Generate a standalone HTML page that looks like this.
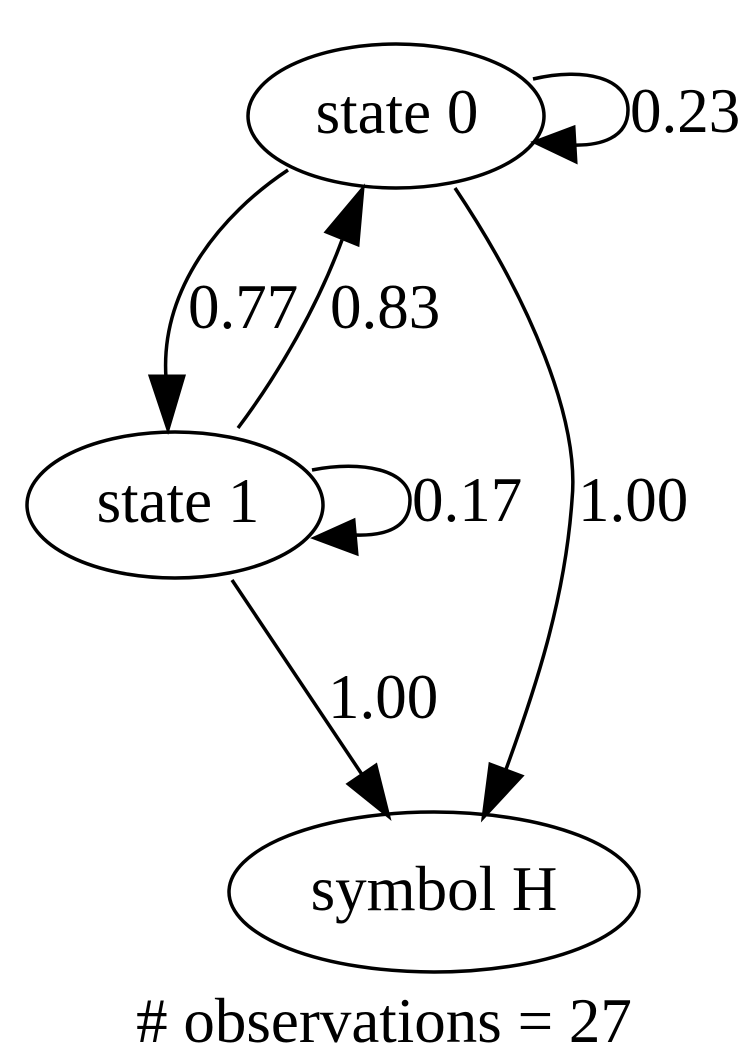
<!DOCTYPE html>
<html><head><meta charset="utf-8"><style>
html,body{margin:0;padding:0;background:#fff;}
svg{display:block;}
text{font-family:"Liberation Serif",serif;font-size:63px;fill:#000;}
</style></head><body>
<svg width="748" height="1058" viewBox="0 0 748 1058">
<g fill="none" stroke="#000" stroke-width="3.5">
<ellipse cx="396" cy="116" rx="148" ry="72"/>
<ellipse cx="175" cy="505" rx="148" ry="73"/>
<ellipse cx="434" cy="892" rx="205" ry="80"/>
<path d="M533,79 C585,67 628,78 628,110 C628,138 600,146 572,145"/>
<path d="M288,170 C220,215 160,290 166,378"/>
<path d="M238,428 C280,372 318,305 342,240"/>
<path d="M312,470 C362,460 410,470 410,500 C410,528 385,536 355,535"/>
<path d="M455,188 C530,300 580,420 572,500 C565,600 535,690 505,772"/>
<path d="M232,580 L363,776"/>
</g>
<g fill="#000" stroke="#000" stroke-width="3">
<polygon points="534,142 574,127 576,162"/>
<polygon points="168,430 150,376 184,376"/>
<polygon points="363,188 358,245 326,232"/>
<polygon points="314,538 354,520 357,554"/>
<polygon points="483,818 490,764 522,776"/>
<polygon points="389,817 348,784 376,765"/>
</g>
<text x="397" y="133" text-anchor="middle">state 0</text>
<text x="178" y="522" text-anchor="middle">state 1</text>
<text x="434" y="910" text-anchor="middle">symbol H</text>
<text x="630" y="132">0.23</text>
<text x="188" y="328">0.77</text>
<text x="330" y="328">0.83</text>
<text x="412" y="521">0.17</text>
<text x="578" y="521">1.00</text>
<text x="328" y="718">1.00</text>
<text x="384" y="1042" text-anchor="middle"># observations = 27</text>
</svg>
</body></html>
